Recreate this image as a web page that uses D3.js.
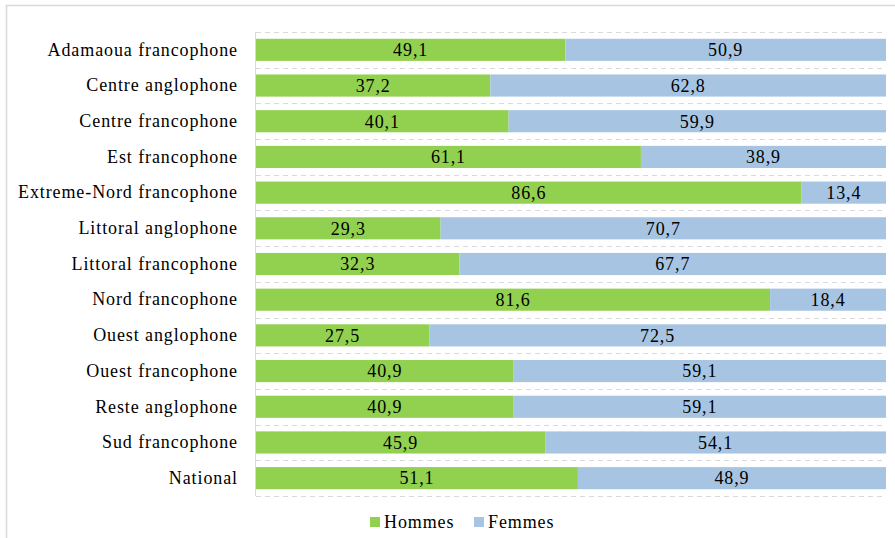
<!DOCTYPE html>
<html><head><meta charset="utf-8">
<script src="https://cdn.jsdelivr.net/npm/d3@7"></script>
<style>body{margin:0;background:#fff}svg{display:block}
svg text{font-family:"Liberation Serif","Times New Roman",Times,serif !important;}
</style>
</head><body>
<script>
const categories = ["Adamaoua francophone","Centre anglophone","Centre francophone","Est francophone","Extreme-Nord francophone","Littoral anglophone","Littoral francophone","Nord francophone","Ouest anglophone","Ouest francophone","Reste anglophone","Sud francophone","National"];
const hommes = [49.1,37.2,40.1,61.1,86.6,29.3,32.3,81.6,27.5,40.9,40.9,45.9,51.1];
const femmes = [50.9,62.8,59.9,38.9,13.4,70.7,67.7,18.4,72.5,59.1,59.1,54.1,48.9];
const seriesNames = ["Hommes","Femmes"];
const colors = ["#92D050","#A7C5E3"];

(function(){
const FS=18, LS=0.9;
const W=895,H=538;
const svg=d3.select("body").append("svg").attr("width",W).attr("height",H);
svg.append("rect").attr("x",6.5).attr("y",5.5).attr("width",W).attr("height",H).attr("fill","#fff").attr("stroke","#d9d9d9").attr("stroke-width",1.5);

const mLeft=256,mRight=886,mTop=32,mBottom=496;
const x=d3.scaleLinear().domain([0,100]).range([mLeft,mRight]);
const y=d3.scaleBand().domain(categories).range([mTop,mBottom]).paddingInner(0.38).paddingOuter(0.19);
const yb=d3.scaleBand().domain(categories).range([mTop,mBottom]);

const g=svg.append("g");
const bounds=categories.map(c=>yb(c)).concat([mBottom]);
g.selectAll("line.grid").data(bounds).join("line").attr("class","grid")
 .attr("x1",mLeft).attr("x2",mRight).attr("y1",d=>Math.round(d)+0.5).attr("y2",d=>Math.round(d)+0.5)
 .attr("stroke","#d9d9d9").attr("stroke-dasharray","5,4").attr("stroke-width",1);
g.append("line").attr("x1",mLeft-0.5).attr("x2",mLeft-0.5).attr("y1",mTop).attr("y2",mBottom).attr("stroke","#d9d9d9");

const stack=d3.stack().keys(seriesNames)(categories.map((c,i)=>({cat:c,Hommes:hommes[i],Femmes:femmes[i]})));
stack.forEach((s,si)=>{
  const gg=svg.append("g");
  gg.selectAll("rect").data(s).join("rect")
    .attr("x",d=>x(d[0])).attr("width",d=>x(d[1])-x(d[0]))
    .attr("y",d=>y(d.data.cat)).attr("height",y.bandwidth()).attr("fill",colors[si]);
  gg.selectAll("text").data(s).join("text")
    .attr("x",d=>(x(d[0])+x(d[1]))/2).attr("y",d=>y(d.data.cat)+y.bandwidth()/2)
    .attr("dy","0.35em").attr("text-anchor","middle").attr("font-size",FS).attr("fill","#000")
    .attr("letter-spacing",LS)
    .text(d=>d3.format(".1f")(d[1]-d[0]).replace(".",","));
});

const yAxis=d3.axisLeft(y).tickSize(0).tickPadding(18);
const ya=svg.append("g").attr("transform",`translate(${mLeft},0)`).call(yAxis);
ya.select(".domain").remove();
ya.selectAll("text").attr("font-size",FS).attr("fill","#000").attr("letter-spacing",LS);

const leg=svg.append("g");
const lx=[370,474];
seriesNames.forEach((n,i)=>{
  leg.append("rect").attr("x",lx[i]).attr("y",517).attr("width",10).attr("height",10).attr("fill",colors[i]);
  leg.append("text").attr("x",lx[i]+14).attr("y",522).attr("dy","0.35em").attr("font-size",FS).attr("letter-spacing",LS).text(n);
});
})();
</script>
</body></html>
